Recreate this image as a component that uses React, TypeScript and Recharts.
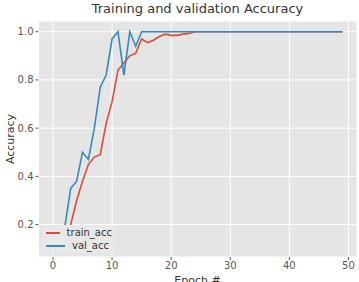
import { LineChart, Line, XAxis, YAxis, CartesianGrid } from 'recharts';

const epochs = [
  0, 1, 2, 3, 4, 5, 6, 7, 8, 9, 10, 11, 12, 13, 14, 15, 16, 17, 18, 19, 20, 21, 22, 23, 24,
  25, 26, 27, 28, 29, 30, 31, 32, 33, 34, 35, 36, 37, 38, 39, 40, 41, 42, 43, 44, 45, 46, 47, 48, 49,
];

const trainAcc = [
  0.11, 0.13, 0.16, 0.2, 0.3, 0.38, 0.45, 0.48, 0.49, 0.62, 0.71, 0.84, 0.87, 0.9, 0.91, 0.97, 0.955,
  0.965, 0.98, 0.99, 0.985, 0.985, 0.99, 0.993, 1, 1, 1, 1, 1, 1, 1, 1, 1, 1, 1, 1, 1, 1, 1, 1, 1, 1,
  1, 1, 1, 1, 1, 1, 1, 1,
];

const valAcc = [
  0.12, 0.15, 0.19, 0.35, 0.38, 0.5, 0.47, 0.6, 0.77, 0.82, 0.97, 1, 0.82, 1, 0.94, 1, 1, 1, 1, 1, 1,
  1, 1, 1, 1, 1, 1, 1, 1, 1, 1, 1, 1, 1, 1, 1, 1, 1, 1, 1, 1, 1, 1, 1, 1, 1, 1, 1, 1, 1,
];

const xTicks = [0, 10, 20, 30, 40, 50];
const yTicks = [0.2, 0.4, 0.6, 0.8, 1.0];

const SERIES = [
  { key: 'train_acc', color: '#E24A33' },
  { key: 'val_acc', color: '#348ABD' },
];

const FONT = '"DejaVu Sans", sans-serif';

const chartData = epochs.map((e, i) => ({ epoch: e, train_acc: trainAcc[i], val_acc: valAcc[i] }));

export default function App() {
  return (
    <div style={{ position: 'absolute', left: 0, top: 0, width: 359, height: 282, background: '#fff', overflow: 'hidden', fontFamily: FONT }}>
      <div style={{ position: 'absolute', left: 38, width: 319, top: 1, textAlign: 'center', fontSize: 13, color: '#333' }}>
        Training and validation Accuracy
      </div>
      <LineChart width={359} height={282} data={chartData} margin={{ top: 21, right: 2, bottom: 0, left: 0 }}>
        <CartesianGrid fill="#E5E5E5" stroke="#fff" strokeWidth={1} />
        <XAxis
          dataKey="epoch"
          type="number"
          domain={[-2.45, 51.45]}
          ticks={xTicks}
          height={25}
          axisLine={false}
          tickLine={{ stroke: '#555' }}
          tickSize={3}
          tick={{ fill: '#555', fontSize: 10, fontFamily: FONT }}
        />
        <YAxis
          type="number"
          domain={[0.0655, 1.0445]}
          ticks={yTicks}
          width={38.5}
          axisLine={false}
          tickLine={{ stroke: '#555' }}
          tickSize={3}
          tickFormatter={(v: number) => v.toFixed(1)}
          tick={{ fill: '#555', fontSize: 10, fontFamily: FONT }}
        />
        {SERIES.map((s) => (
          <Line key={s.key} dataKey={s.key} stroke={s.color} strokeWidth={1.6} dot={false} isAnimationActive={false} />
        ))}
      </LineChart>
      <div
        style={{
          position: 'absolute',
          left: 10,
          top: 139,
          transform: 'translate(-50%, -50%) rotate(-90deg)',
          fontSize: 11,
          color: '#333',
          whiteSpace: 'nowrap',
        }}
      >
        Accuracy
      </div>
      <div style={{ position: 'absolute', left: 38, width: 319, top: 274, textAlign: 'center', fontSize: 11, color: '#333' }}>
        Epoch #
      </div>
      <div
        style={{
          position: 'absolute',
          left: 43,
          top: 225,
          width: 72,
          height: 28,
          boxSizing: 'border-box',
          background: '#E8E8E8',
          padding: '1px 3px',
          fontSize: 10,
          color: '#333',
        }}
      >
        {SERIES.map((s) => (
          <div key={s.key} style={{ display: 'flex', alignItems: 'center', height: 13 }}>
            <span style={{ display: 'inline-block', width: 19, height: 2, background: s.color, marginRight: 7 }} />
            <span>{s.key}</span>
          </div>
        ))}
      </div>
    </div>
  );
}
